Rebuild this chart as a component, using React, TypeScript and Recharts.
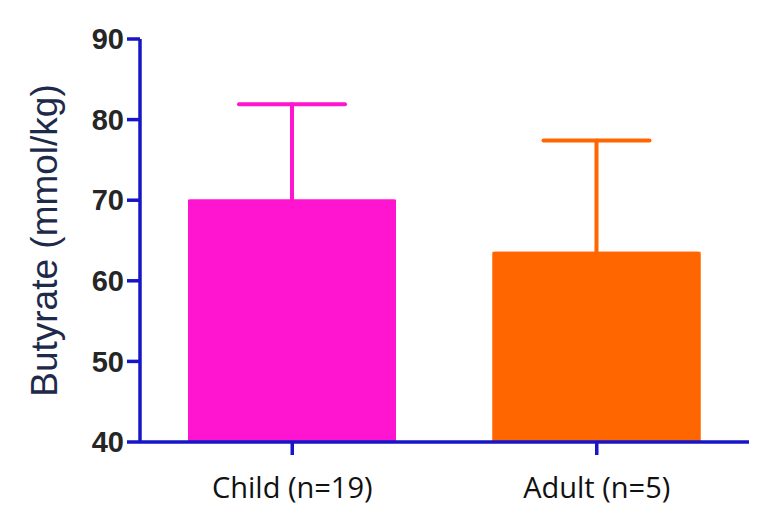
import { BarChart, Bar, XAxis, YAxis, ErrorBar, Label } from 'recharts'

// Values (mean ± SD, only the upper whisker shows)
const groups = ['Child (n=19)', 'Adult (n=5)']
const childMean = [70.1, null]
const adultMean = [null, 63.6]
const childSd = [11.8, null]
const adultSd = [null, 13.8]
const yTicks = [40, 50, 60, 70, 80, 90]

const AXIS_BLUE = '#1616c6'
const PINK = '#ff14d0'
const ORANGE = '#ff6600'

// All series share the same slot in a category (barGap = -barSize)
const data = groups.map((g, i) => ({
  group: g,
  child: childMean[i],
  adult: adultMean[i],
  childSd: childSd[i] ?? undefined,
  adultSd: adultSd[i] ?? undefined,
}))

const renderYLabel = ({ viewBox }: any) => {
  const cx = 56.5
  const cy = viewBox.y + viewBox.height / 2
  return (
    <text
      x={cx}
      y={cy}
      transform={`rotate(-90, ${cx}, ${cy})`}
      textAnchor="middle"
      fill="#1e2a4a"
      style={{ fontFamily: '"Liberation Sans", Arial, sans-serif', fontSize: 37 }}
    >
      Butyrate (mmol/kg)
    </text>
  )
}

export default function App() {
  return (
    <div style={{ position: 'absolute', left: 0, top: 0, width: 775, height: 525, background: '#fff' }}>
      <BarChart
        width={775}
        height={525}
        data={data}
        margin={{ top: 39, right: 26, bottom: 0, left: 0 }}
        barSize={208}
        barGap={-208}
      >
        <XAxis
          dataKey="group"
          height={83}
          axisLine={{ stroke: AXIS_BLUE, strokeWidth: 3.5 }}
          tickLine={{ stroke: AXIS_BLUE, strokeWidth: 3.5 }}
          tickSize={13}
          tickMargin={22}
          tick={{ fontSize: 29, fill: '#111', fontFamily: '"Open Sans", sans-serif' }}
        />
        <YAxis
          type="number"
          domain={[40, 90]}
          ticks={yTicks}
          width={140}
          axisLine={{ stroke: AXIS_BLUE, strokeWidth: 3.5 }}
          tickLine={{ stroke: AXIS_BLUE, strokeWidth: 3.5 }}
          tickSize={13}
          tickMargin={3}
          tick={{ fontSize: 29, fontWeight: 'bold', fill: '#262626', fontFamily: '"Liberation Sans", Arial, sans-serif' }}
        >
          <Label content={renderYLabel} />
        </YAxis>
        <Bar dataKey="child" fill={PINK} isAnimationActive={false}>
          <ErrorBar dataKey="childSd" direction="y" width={53} stroke={PINK} strokeWidth={4} strokeLinecap="round" />
        </Bar>
        <Bar dataKey="adult" fill={ORANGE} isAnimationActive={false}>
          <ErrorBar dataKey="adultSd" direction="y" width={53} stroke={ORANGE} strokeWidth={4} strokeLinecap="round" />
        </Bar>
        {/* painted again on top so the lower half of each whisker is hidden */}
        <Bar dataKey="child" fill={PINK} radius={[3, 3, 0, 0]} isAnimationActive={false} />
        <Bar dataKey="adult" fill={ORANGE} radius={[3, 3, 0, 0]} isAnimationActive={false} />
      </BarChart>
    </div>
  )
}
